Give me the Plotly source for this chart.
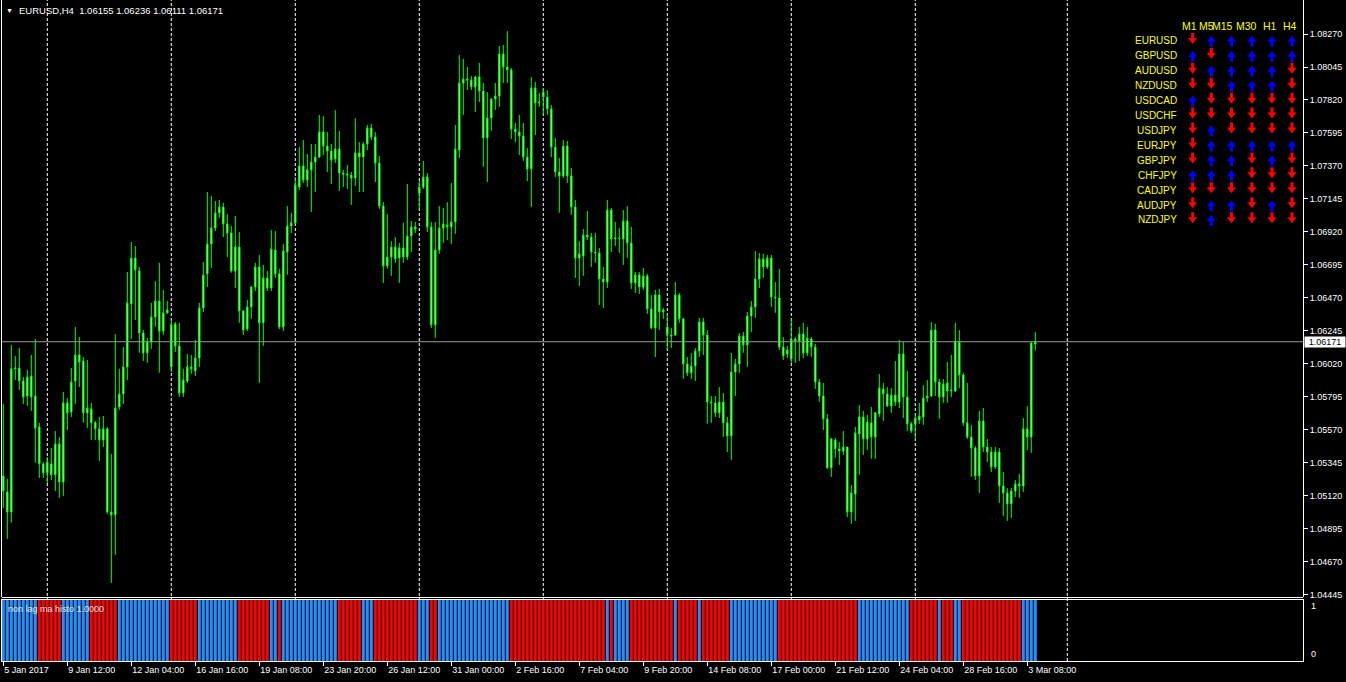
import plotly.graph_objects as go

# ---------------- data ----------------
opens = [1.05256,1.05146,1.05010,1.05986,1.05992,1.05903,1.05801,1.05938,1.05801,1.05590,
1.05338,1.05277,1.05338,1.05263,1.05474,1.05214,1.05754,1.05692,1.05903,1.06081,
1.06040,1.05686,1.05713,1.05618,1.05577,1.05501,1.05577,1.05010,1.04990,1.05726,
1.05815,1.05999,1.06429,1.06742,1.06654,1.06231,1.06095,1.06169,1.06340,1.06449,
1.06244,1.06368,1.05999,1.06293,1.06142,1.05822,1.05903,1.05999,1.05972,1.06060,
1.06401,1.06634,1.06838,1.06947,1.07050,1.07090,1.06975,1.06913,1.06654,1.06817,
1.06381,1.06258,1.06408,1.06544,1.06681,1.06300,1.06606,1.06537,1.06797,1.06634,
1.06272,1.06783,1.06961,1.06982,1.07226,1.07370,1.07274,1.07343,1.07397,1.07431,
1.07602,1.07506,1.07472,1.07418,1.07486,1.07322,1.07315,1.07308,1.07288,1.07459,
1.07431,1.07520,1.07629,1.07568,1.07390,1.07097,1.06688,1.06749,1.06817,1.06742,
1.06811,1.06749,1.06892,1.06954,1.07186,1.07226,1.07295,1.06954,1.06286,1.06797,
1.06947,1.06968,1.06954,1.06988,1.07479,1.07936,1.07963,1.07956,1.07909,1.07977,
1.07881,1.07561,1.07697,1.07827,1.07847,1.08134,1.08045,1.08025,1.07622,1.07602,
1.07574,1.07431,1.07350,1.07902,1.07800,1.07874,1.07840,1.07759,1.07499,1.07329,
1.07302,1.07506,1.07302,1.07090,1.06742,1.06756,1.06899,1.06885,1.06783,1.06777,
1.06599,1.06578,1.07070,1.06872,1.06879,1.06872,1.06995,1.06845,1.06572,1.06627,
1.06544,1.06620,1.06395,1.06265,1.06490,1.06374,1.06272,1.06217,1.06217,1.06490,
1.06327,1.06020,1.05959,1.06006,1.06108,1.06306,1.06217,1.05760,1.05754,1.05686,
1.05760,1.05618,1.05528,1.05965,1.06020,1.06210,1.06149,1.06347,1.06408,1.06599,
1.06736,1.06681,1.06742,1.06476,1.06470,1.06135,1.06088,1.06054,1.06190,1.06176,
1.06224,1.06095,1.06190,1.06135,1.05896,1.05801,1.05645,1.05311,1.05501,1.05440,
1.05426,1.05453,1.05010,1.05133,1.05542,1.05658,1.05508,1.05618,1.05521,1.05679,
1.05849,1.05815,1.05733,1.05808,1.05760,1.06088,1.05794,1.05611,1.05611,1.05638,
1.05658,1.05787,1.05801,1.06251,1.05896,1.05794,1.05890,1.05835,1.05835,1.06169,
1.05945,1.05618,1.05521,1.05446,1.05256,1.05631,1.05453,1.05419,1.05317,1.05419,
1.05187,1.05140,1.05065,1.05153,1.05201,1.05187,1.05577,1.05521,1.06155]

highs = [1.05747,1.05236,1.06149,1.06074,1.06128,1.05931,1.05979,1.06081,1.06190,1.05618,
1.05351,1.05385,1.05446,1.05562,1.05521,1.05828,1.05787,1.05992,1.06272,1.06203,
1.06067,1.06047,1.05754,1.05631,1.05658,1.05665,1.05590,1.05406,1.06224,1.05986,
1.06135,1.06647,1.06851,1.06824,1.06681,1.06251,1.06196,1.06436,1.06585,1.06709,
1.06524,1.06449,1.06320,1.06306,1.06300,1.05986,1.06088,1.06081,1.06183,1.06436,
1.06715,1.07192,1.07165,1.07131,1.07138,1.07118,1.07043,1.06961,1.07029,1.06919,
1.06388,1.06456,1.06551,1.06709,1.06763,1.06695,1.06654,1.06933,1.06926,1.06668,
1.06838,1.07097,1.07050,1.07295,1.07499,1.07547,1.07452,1.07520,1.07520,1.07718,
1.07711,1.07602,1.07520,1.07752,1.07608,1.07343,1.07377,1.07329,1.07697,1.07533,
1.07533,1.07650,1.07657,1.07602,1.07438,1.07124,1.07043,1.06858,1.06885,1.06845,
1.06982,1.07247,1.06995,1.06988,1.07267,1.07404,1.07322,1.06988,1.06988,1.07097,
1.07084,1.07124,1.07254,1.07650,1.08127,1.08100,1.08045,1.07984,1.07984,1.08073,
1.07936,1.07874,1.07833,1.07936,1.08188,1.08195,1.08290,1.08038,1.07663,1.07718,
1.07663,1.07492,1.07977,1.07943,1.07868,1.07902,1.07888,1.07786,1.07561,1.07424,
1.07547,1.07540,1.07356,1.07138,1.06858,1.06940,1.07063,1.06913,1.06913,1.06811,
1.06681,1.07138,1.07084,1.06988,1.06947,1.07070,1.07097,1.06954,1.06647,1.06647,
1.06674,1.06634,1.06490,1.06524,1.06531,1.06401,1.06361,1.06265,1.06578,1.06504,
1.06334,1.06067,1.06095,1.06128,1.06334,1.06334,1.06251,1.05801,1.05801,1.05862,
1.05822,1.05658,1.06095,1.06054,1.06231,1.06238,1.06374,1.06449,1.06790,1.06777,
1.06770,1.06763,1.06763,1.06578,1.06668,1.06203,1.06142,1.06327,1.06203,1.06272,
1.06300,1.06272,1.06203,1.06156,1.05917,1.05890,1.05679,1.05515,1.05515,1.05487,
1.05562,1.05453,1.05194,1.05590,1.05740,1.05699,1.05672,1.05726,1.05692,1.05952,
1.05890,1.05862,1.05855,1.06040,1.06183,1.06169,1.05972,1.05624,1.05672,1.05754,
1.05876,1.05910,1.06306,1.06293,1.05917,1.05917,1.06033,1.06081,1.06300,1.06251,
1.05959,1.05890,1.05604,1.05460,1.05699,1.05719,1.05508,1.05453,1.05453,1.05446,
1.05283,1.05173,1.05174,1.05228,1.05270,1.05651,1.05733,1.06169,1.06236]

lows = [1.05037,1.04826,1.04936,1.05910,1.05842,1.05747,1.05733,1.05699,1.05345,1.05242,
1.05242,1.05208,1.05228,1.05153,1.05105,1.05119,1.05569,1.05658,1.05747,1.05862,
1.05618,1.05583,1.05501,1.05501,1.05358,1.05453,1.04997,1.04526,1.04717,1.05706,
1.05747,1.05910,1.06190,1.06320,1.06095,1.06040,1.06027,1.06122,1.06272,1.05959,
1.06217,1.06361,1.05965,1.06101,1.05794,1.05794,1.05890,1.05952,1.05938,1.05999,
1.06374,1.06544,1.06674,1.06926,1.07015,1.06885,1.06749,1.06641,1.06537,1.06300,
1.06217,1.06244,1.06327,1.06517,1.05890,1.06142,1.06517,1.06517,1.06606,1.06258,
1.06244,1.06627,1.06913,1.06975,1.07206,1.07254,1.07226,1.07056,1.07192,1.07424,
1.07445,1.07329,1.07247,1.07390,1.07199,1.07226,1.07213,1.07104,1.07233,1.07192,
1.07192,1.07479,1.07547,1.07260,1.07077,1.06572,1.06668,1.06620,1.06709,1.06572,
1.06709,1.06729,1.06783,1.06913,1.07070,1.07213,1.06919,1.06265,1.06196,1.06770,
1.06845,1.06865,1.06838,1.06906,1.07424,1.07718,1.07888,1.07888,1.07738,1.07806,
1.07363,1.07260,1.07608,1.07752,1.07772,1.07936,1.07936,1.07554,1.07533,1.07445,
1.07404,1.07267,1.07090,1.07581,1.07772,1.07718,1.07718,1.07431,1.07295,1.07050,
1.07288,1.07254,1.07036,1.06606,1.06551,1.06620,1.06865,1.06681,1.06709,1.06422,
1.06401,1.06537,1.06783,1.06824,1.06777,1.06695,1.06742,1.06531,1.06504,1.06497,
1.06524,1.06361,1.06258,1.06067,1.06251,1.06327,1.06115,1.06128,1.06210,1.06300,
1.05917,1.05938,1.05917,1.05903,1.06067,1.06081,1.05611,1.05618,1.05658,1.05651,
1.05521,1.05419,1.05365,1.05801,1.05959,1.06095,1.05999,1.06238,1.06334,1.06537,
1.06606,1.06668,1.06408,1.06368,1.06115,1.06047,1.06060,1.06027,1.06027,1.06040,
1.06060,1.06074,1.06067,1.05849,1.05760,1.05569,1.05304,1.05249,1.05379,1.05331,
1.05399,1.04976,1.04929,1.04949,1.05263,1.05399,1.05433,1.05372,1.05372,1.05658,
1.05631,1.05726,1.05686,1.05733,1.05719,1.05651,1.05562,1.05549,1.05508,1.05611,
1.05604,1.05760,1.05794,1.05801,1.05645,1.05754,1.05754,1.05794,1.05828,1.05855,
1.05597,1.05508,1.05249,1.05228,1.05140,1.05419,1.05351,1.05283,1.05304,1.05072,
1.04983,1.04949,1.04969,1.05112,1.05105,1.05146,1.05433,1.05413,1.06111]

closes = [1.05153,1.05010,1.05986,1.05992,1.05903,1.05794,1.05931,1.05794,1.05583,1.05338,
1.05277,1.05351,1.05263,1.05474,1.05214,1.05754,1.05686,1.05896,1.06081,1.06033,
1.05686,1.05719,1.05618,1.05577,1.05501,1.05577,1.05010,1.04990,1.05719,1.05815,
1.05999,1.06436,1.06742,1.06661,1.06231,1.06095,1.06169,1.06340,1.06449,1.06244,
1.06368,1.06388,1.06286,1.06142,1.05822,1.05910,1.05999,1.05986,1.06060,1.06401,
1.06627,1.06838,1.06947,1.07050,1.07090,1.06975,1.06913,1.06654,1.06817,1.06381,
1.06251,1.06408,1.06544,1.06681,1.06300,1.06606,1.06537,1.06804,1.06634,1.06272,
1.06790,1.06961,1.06982,1.07240,1.07370,1.07274,1.07343,1.07397,1.07431,1.07602,
1.07506,1.07472,1.07411,1.07486,1.07322,1.07315,1.07308,1.07288,1.07459,1.07431,
1.07520,1.07629,1.07568,1.07390,1.07097,1.06688,1.06749,1.06817,1.06736,1.06811,
1.06749,1.06892,1.06954,1.06940,1.07226,1.07295,1.06954,1.06286,1.06797,1.06947,
1.06975,1.06954,1.06988,1.07486,1.07936,1.07963,1.07956,1.07909,1.07977,1.07881,
1.07561,1.07697,1.07827,1.07847,1.08134,1.08045,1.08025,1.07622,1.07602,1.07574,
1.07431,1.07350,1.07902,1.07800,1.07806,1.07840,1.07759,1.07499,1.07329,1.07302,
1.07506,1.07302,1.07090,1.06742,1.06770,1.06899,1.06885,1.06783,1.06777,1.06599,
1.06578,1.07070,1.06872,1.06879,1.06875,1.06995,1.06845,1.06572,1.06627,1.06544,
1.06620,1.06395,1.06265,1.06490,1.06374,1.06388,1.06217,1.06210,1.06490,1.06327,
1.06020,1.05959,1.06006,1.06108,1.06306,1.06217,1.05760,1.05754,1.05686,1.05760,
1.05618,1.05528,1.05965,1.06020,1.06210,1.06149,1.06347,1.06408,1.06599,1.06736,
1.06681,1.06742,1.06476,1.06470,1.06135,1.06074,1.06115,1.06190,1.06176,1.06224,
1.06095,1.06196,1.06135,1.05896,1.05801,1.05645,1.05311,1.05508,1.05440,1.05426,
1.05453,1.05010,1.05140,1.05549,1.05658,1.05508,1.05624,1.05521,1.05686,1.05855,
1.05815,1.05733,1.05808,1.05760,1.06088,1.05794,1.05611,1.05562,1.05651,1.05665,
1.05787,1.05801,1.06251,1.05896,1.05794,1.05883,1.05835,1.05842,1.06176,1.05945,
1.05618,1.05521,1.05446,1.05256,1.05631,1.05453,1.05419,1.05317,1.05419,1.05187,
1.05140,1.05065,1.05153,1.05201,1.05187,1.05577,1.05521,1.06163,1.06171]

# non lag ma histo: trend state runs (state, number of bars); value is always 1
trend_runs = [("up",9),("dn",6),("up",7),("dn",7),("up",13),("dn",7),("up",10),("dn",8),
              ("up",2),("dn",1),("up",14),("dn",6),("up",3),("dn",11),("up",3),("dn",2),
              ("up",18),("dn",24),("up",1),("dn",1),("up",4),("dn",11),("up",1),("dn",5),
              ("up",1),("dn",7),("up",12),("dn",20),("up",13),("dn",7),("up",1),("dn",3),
              ("up",2),("dn",15),("up",4)]
histo_value = 1.0

time_tick_idx = [0,16,32,48,64,80,96,112,128,144,160,176,192,208,224,240,256]
time_tick_text = ["5 Jan 2017","9 Jan 12:00","12 Jan 04:00","16 Jan 16:00","19 Jan 08:00",
                  "23 Jan 20:00","26 Jan 12:00","31 Jan 00:00","2 Feb 16:00","7 Feb 04:00",
                  "9 Feb 20:00","14 Feb 08:00","17 Feb 00:00","21 Feb 12:00","24 Feb 04:00",
                  "28 Feb 16:00","3 Mar 08:00"]
price_ticks = [1.04445,1.04670,1.04895,1.05120,1.05345,1.05570,1.05795,1.06020,1.06245,
               1.06470,1.06695,1.06920,1.07145,1.07370,1.07595,1.07820,1.08045,1.08270]
separator_idx = [11,42,73,104,135,166,197,228,266]

last_price = 1.06171
chart_title = "EURUSD,H4  1.06155 1.06236 1.06111 1.06171"
indicator_title = "non lag ma histo 1.0000"

pairs = ["EURUSD","GBPUSD","AUDUSD","NZDUSD","USDCAD","USDCHF","USDJPY",
         "EURJPY","GBPJPY","CHFJPY","CADJPY","AUDJPY","NZDJPY"]
timeframes = ["M1","M5","M15","M30","H1","H4"]
signals = ["DUUUUU","UDUUUU","DUUUUD","DDUUUD","UDDDDD","DDDDDD","DUDDDD",
           "DUUUUU","DUUDUD","UUUDDD","DDDDDD","DUUDUD","DUDDDD"]

# ---------------- layout geometry ----------------
W, H = 1346, 682
ML, MR, MT, MB = 2, 43, 0, 21
PW, PH = W - ML - MR, H - MT - MB
BAR_PX = 4.0
x_left = (ML - 3.3) / BAR_PX
x_right = x_left + PW / BAR_PX
main_dom = [(PH - 597) / PH, 1.0]
ind_dom = [0.0, (PH - 599) / PH]
y_range = [1.04430, 1.08502]

def px_x(px):
    return (px - ML) / PW

def px_y(py):
    return (PH - (py - MT)) / PH

FONT = "Liberation Sans, Arial, sans-serif"
GREEN = "#00ff00"

idx = list(range(len(closes)))
trend = []
for state, n in trend_runs:
    trend += [state] * n
bar_colors = ["#1e90ff" if s == "up" else "#ff0000" for s in trend]

fig = go.Figure()
fig.add_trace(go.Candlestick(
    x=idx, open=opens, high=highs, low=lows, close=closes,
    increasing=dict(line=dict(color=GREEN, width=1), fillcolor="#b8ffb8"),
    decreasing=dict(line=dict(color=GREEN, width=1), fillcolor="#b8ffb8"),
    whiskerwidth=0, xaxis="x", yaxis="y", hoverinfo="skip", showlegend=False))
fig.add_trace(go.Bar(
    x=idx, y=[histo_value] * len(idx), width=0.75, marker=dict(color=bar_colors, line=dict(width=0)),
    xaxis="x", yaxis="y2", hoverinfo="skip", showlegend=False))

shapes = []
for s in separator_idx:
    shapes.append(dict(type="line", xref="x", yref="paper", x0=s, x1=s, y0=0, y1=1,
                       line=dict(color="white", width=1, dash="3px,2px"), layer="below"))
# panel borders placed on pixel centres so they render crisp
shapes.append(dict(type="line", xref="paper", yref="paper", x0=0, x1=1, y0=px_y(597.5), y1=px_y(597.5),
                   line=dict(color="white", width=1)))
shapes.append(dict(type="line", xref="paper", yref="paper", x0=0, x1=1, y0=px_y(599.5), y1=px_y(599.5),
                   line=dict(color="white", width=1)))
shapes.append(dict(type="line", xref="paper", yref="y", x0=0, x1=1, y0=last_price, y1=last_price,
                   line=dict(color="#9a9a9a", width=1)))

ann = []
ann.append(dict(text="▼", xref="paper", yref="paper", x=px_x(9), y=px_y(10), showarrow=False,
                font=dict(family=FONT, size=7, color="white"), xanchor="center", yanchor="middle"))
ann.append(dict(text=chart_title, xref="paper", yref="paper", x=px_x(17), y=px_y(10), showarrow=False,
                font=dict(family=FONT, size=9.5, color="white"), xanchor="left", yanchor="middle"))
ann.append(dict(text=indicator_title, xref="paper", yref="paper", x=px_x(6), y=px_y(609), showarrow=False,
                font=dict(family=FONT, size=9, color="#e8e8e8"), xanchor="left", yanchor="middle"))
ann.append(dict(text="1", xref="paper", yref="paper", x=px_x(1309), y=px_y(606), showarrow=False,
                font=dict(family=FONT, size=9, color="white"), xanchor="left", yanchor="middle"))
ann.append(dict(text="0", xref="paper", yref="paper", x=px_x(1309), y=px_y(654), showarrow=False,
                font=dict(family=FONT, size=9, color="white"), xanchor="left", yanchor="middle"))
ann.append(dict(text=f"{last_price:.5f}", xref="paper", yref="y", x=px_x(1304), y=last_price,
                showarrow=False, bgcolor="white", width=40, height=10, borderpad=0,
                font=dict(family=FONT, size=9, color="black"), xanchor="left", yanchor="middle"))

# signal table
head_x = [1189.7, 1206.7, 1222, 1246, 1270, 1290]
col_x = [1192.7, 1211.3, 1231.5, 1252.0, 1272.0, 1292.0]
row_y0, row_dy = 40.7, 14.94
YEL = "#ffff00"


def arrow_path(cx, cy, up):
    # thick arrow: 3px stem, 9px wide head, ~11px tall (pixel geometry -> paper coords)
    if up:
        pts = [(cx - 1.5, cy + 5.5), (cx + 1.5, cy + 5.5), (cx + 1.5, cy + 0.5), (cx + 4.5, cy + 0.5),
               (cx, cy - 5.5), (cx - 4.5, cy + 0.5), (cx - 1.5, cy + 0.5)]
    else:
        pts = [(cx - 1.5, cy - 5.5), (cx + 1.5, cy - 5.5), (cx + 1.5, cy - 0.5), (cx + 4.5, cy - 0.5),
               (cx, cy + 5.5), (cx - 4.5, cy - 0.5), (cx - 1.5, cy - 0.5)]
    return "M " + " L ".join(f"{px_x(x):.6f},{px_y(y):.6f}" for x, y in pts) + " Z"


for tf, hx in zip(timeframes, head_x):
    ann.append(dict(text=tf, xref="paper", yref="paper", x=px_x(hx), y=px_y(25.5), showarrow=False,
                    font=dict(family=FONT, size=10.5, color=YEL), xanchor="center", yanchor="middle"))
for r, (pair, sig) in enumerate(zip(pairs, signals)):
    ry = row_y0 + r * row_dy
    ann.append(dict(text=pair, xref="paper", yref="paper", x=px_x(1179), y=px_y(ry), showarrow=False,
                    font=dict(family=FONT, size=10, color=YEL), xanchor="right", yanchor="middle"))
    for c, s in enumerate(sig):
        up = s == "U"
        cy = ry + (0.6 if up else -2.3)
        shapes.append(dict(type="path", xref="paper", yref="paper", path=arrow_path(col_x[c], cy, up),
                           fillcolor="#0000ff" if up else "#ff0000", line=dict(width=0), layer="above"))

fig.update_layout(
    width=W, height=H, margin=dict(l=ML, r=MR, t=MT, b=MB, pad=0),
    paper_bgcolor="black", plot_bgcolor="black", showlegend=False, boxgap=0.5,
    shapes=shapes, annotations=ann,
    xaxis=dict(range=[x_left, x_right], anchor="y2", showgrid=False, zeroline=False,
               tickmode="array", tickvals=time_tick_idx, ticktext=time_tick_text,
               ticks="outside", ticklen=4, tickcolor="white", tickwidth=1,
               ticklabelposition="outside right", tickfont=dict(family=FONT, size=9, color="white"),
               showline=True, linecolor="white", linewidth=1, rangeslider=dict(visible=False),
               fixedrange=True),
    yaxis=dict(domain=main_dom, range=y_range, side="right", anchor="x", showgrid=False, zeroline=False,
               tickmode="array", tickvals=price_ticks, ticktext=[f"{v:.5f}" for v in price_ticks],
               ticks="outside", ticklen=4, tickcolor="white", tickwidth=1,
               tickfont=dict(family=FONT, size=9, color="white"),
               showline=True, mirror=True, linecolor="white", linewidth=1),
    yaxis2=dict(domain=ind_dom, range=[0, 1], side="right", anchor="x", showgrid=False, zeroline=False,
                showticklabels=False, ticks="", showline=True, mirror=True, linecolor="white", linewidth=1),
)

fig.write_html("out.html", config={"displayModeBar": False},
               post_script="document.body.style.margin='0';document.body.style.padding='0';"
                           "document.body.style.overflow='hidden';"
                           "document.documentElement.style.overflow='hidden';")
